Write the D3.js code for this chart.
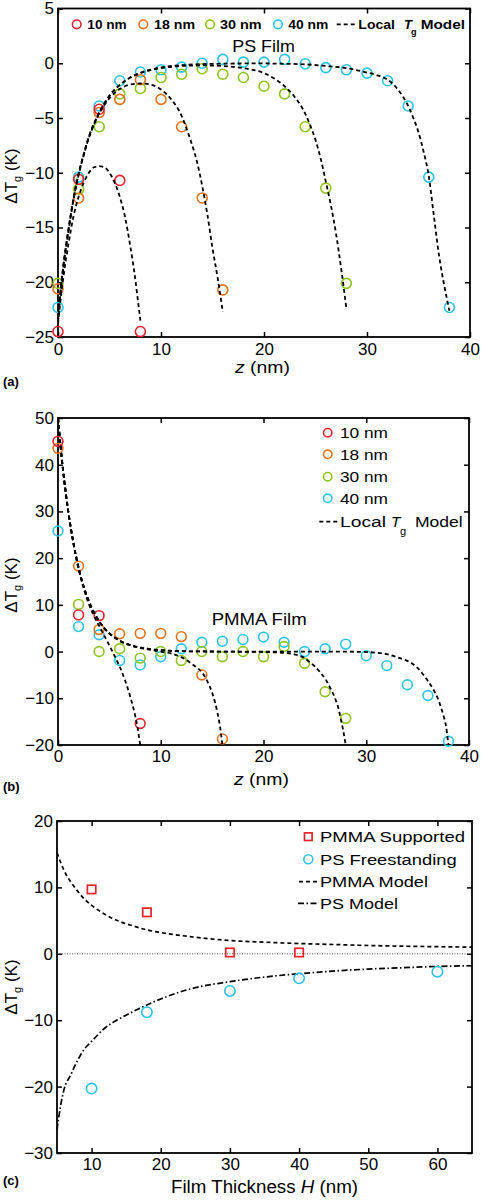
<!DOCTYPE html>
<html><head><meta charset="utf-8">
<script src="https://cdn.jsdelivr.net/npm/d3@7"></script>
<style>
body{margin:0;background:#fff}
svg{display:block}
text{font-family:"Liberation Sans",Arial,Helvetica,sans-serif;fill:#000}
</style>
</head><body>
<svg id="chart" width="482" height="1200"></svg>
<script>
// ---------- Panel (a): PS film, ΔTg vs z ----------
const psZ10 = [0,2,4,6,8];
const psT10 = [-24.5,-10.6,-4.2,-10.7,-24.5];
const psZ18 = [0,2,4,6,8,10,12,14,16];
const psT18 = [-20.6,-12.3,-4.5,-3.3,-1.5,-3.3,-5.8,-12.3,-20.7];
const psZ30 = [0,2,4,6,8,10,12,14,16,18,20,22,24,26,28];
const psT30 = [-20.1,-11.5,-5.8,-2.8,-2.3,-1.3,-1.0,-0.5,-1.0,-1.3,-2.1,-2.8,-5.8,-11.4,-20.1];
const psZ40 = [0,2,4,6,8,10,12,14,16,18,20,22,24,26,28,30,32,34,36,38];
const psT40 = [-22.3,-10.4,-3.9,-1.6,-0.8,-0.6,-0.35,0,0.35,0.1,0.1,0.35,-0.05,-0.4,-0.6,-0.9,-1.6,-3.9,-10.4,-22.3];

const psModelZ10 = [0,0.25,0.5,1,1.5,2,2.5,3,3.5,4,4.5,5,5.5,6,6.5,7,7.5,7.75,8];
const psModelT10 = [-23.8,-21.6,-19.7,-16.6,-14.0,-12.2,-10.9,-10.0,-9.5,-9.4,-9.5,-10.0,-10.9,-12.2,-14.0,-16.6,-19.7,-21.6,-23.5];
const psModelZ18 = [0,0.25,0.5,1,1.5,2,2.5,3,3.5,4,5,6,7,8,9,10,11,12,12.5,13,13.5,14,14.5,15,15.5,16];
const psModelT18 = [-23.1,-20.8,-18.7,-15.4,-12.5,-10.2,-8.4,-6.8,-5.6,-4.6,-3.2,-2.35,-1.95,-1.85,-1.95,-2.4,-3.3,-4.8,-6.0,-7.4,-9.0,-11.2,-13.8,-16.9,-19.6,-22.7];
const psModelZ30 = [0,0.25,0.5,1,1.5,2,2.5,3,3.5,4,5,6,7,8,9,10,12,14,16,18,20,21,22,23,24,24.5,25,25.5,26,26.5,27,27.5,28];
const psModelT30 = [-23.6,-20.8,-18.7,-15.3,-12.4,-10.1,-8.3,-6.7,-5.5,-4.5,-2.97,-1.98,-1.33,-0.9,-0.62,-0.45,-0.25,-0.2,-0.25,-0.45,-0.9,-1.4,-2.1,-3.1,-4.6,-5.7,-7.0,-8.7,-10.8,-13.0,-15.6,-18.8,-22.4];
const psModelZ40 = [0,0.25,0.5,1,1.5,2,2.5,3,3.5,4,5,6,7,8,9,10,12,14,16,18,20,22,24,26,28,30,31,32,33,34,34.5,35,35.5,36,36.5,37,37.5,38];
const psModelT40 = [-23.6,-20.8,-18.7,-15.3,-12.4,-10.1,-8.3,-6.7,-5.5,-4.5,-2.96,-1.97,-1.31,-0.87,-0.58,-0.38,-0.17,-0.08,-0.04,-0.02,-0.02,-0.05,-0.1,-0.25,-0.45,-0.85,-1.1,-1.5,-2.4,-3.9,-5.0,-6.3,-8.1,-10.3,-14.0,-17.6,-20.3,-22.6];

// ---------- Panel (b): PMMA film, ΔTg vs z ----------
const pmmaZ10 = [0,2,4,8];
const pmmaT10 = [45,7.85,7.7,-15.4];
const pmmaZ18 = [0,2,4,6,8,10,12,14,16];
const pmmaT18 = [43.5,18.3,4.7,3.8,3.9,3.9,3.2,-5.0,-18.7];
const pmmaZ30 = [2,4,6,8,10,12,14,16,18,20,22,24,26,28];
const pmmaT30 = [10.1,0,0.6,-1.4,0,-1.9,0,-1.1,0,-1.1,1.07,-2.5,-8.6,-14.3];
const pmmaZ40 = [0,2,4,6,8,10,12,14,16,18,20,22,24,26,28,30,32,34,36,38];
const pmmaT40 = [25.8,5.35,3.6,-1.9,-2.85,-1.1,0.6,2.0,2.2,2.6,3.1,2.0,0,0.6,1.6,-0.9,-3.0,-7.1,-9.4,-19.2];

const pmmaModelZ10 = [0,0.25,0.5,0.75,1,1.5,2,2.5,3,3.5,4,4.5,5,5.5,6,6.5,7,7.25,7.5,7.75,8];
const pmmaModelT10 = [50,43.9,38.6,34.0,29.9,23.1,17.7,13.5,10.2,7.6,5.5,3.4,1.3,-0.9,-3.2,-6.0,-9.4,-11.4,-13.6,-16.4,-20];
const pmmaModelZ18 = [0,0.25,0.5,0.75,1,1.5,2,2.5,3,3.5,4,5,6,7,8,9,10,11,12,12.5,13,13.5,14,14.5,15,15.25,15.5,15.75,16];
const pmmaModelT18 = [50,44.0,38.7,34.1,30.0,23.3,18.0,13.9,10.8,8.4,6.5,3.9,2.3,1.4,0.77,0.38,0.0,-0.4,-1.2,-1.8,-2.6,-3.4,-4.4,-6.2,-8.8,-10.6,-12.9,-15.8,-20];
const pmmaModelZ30 = [0,0.25,0.5,0.75,1,1.5,2,2.5,3,3.5,4,5,6,7,8,9,10,12,14,16,18,20,22,23,24,24.5,25,25.5,26,26.5,27,27.25,27.5,27.75,28];
const pmmaModelT30 = [50,44.0,38.7,34.1,30.0,23.3,18.0,13.9,10.8,8.4,6.5,3.9,2.34,1.41,0.84,0.51,0.3,0.1,0.03,0,-0.05,-0.1,-0.3,-0.6,-1.4,-2.3,-3.2,-4.4,-5.8,-7.8,-10.2,-11.8,-14.2,-16.8,-20];
const pmmaModelZ40 = [0,0.25,0.5,0.75,1,1.5,2,2.5,3,3.5,4,5,6,7,8,9,10,12,14,16,18,20,22,24,26,28,30,31,32,33,34,34.5,35,35.5,36,36.5,37,37.25,37.5,37.75,38];
const pmmaModelT40 = [50,44.0,38.7,34.1,30.0,23.3,18.0,13.9,10.8,8.4,6.5,3.9,2.34,1.41,0.84,0.51,0.3,0.1,0.03,0,0,0,0,0,0,-0.02,-0.1,-0.25,-0.55,-1.2,-2.0,-2.6,-3.5,-4.8,-6.3,-8.0,-10.2,-11.8,-13.6,-15.8,-20];

// ---------- Panel (c): ΔTg vs film thickness ----------
const hSupported = [10,18,30,40];
const tSupported = [9.7,6.25,0.2,0.2];
const hFree = [10,18,30,40,60];
const tFree = [-20.3,-8.8,-5.6,-3.7,-2.7];
const pmmaModelH = [5,6,7,8,9,10,12,14,16,18,20,25,30,35,40,45,50,55,60,65];
const pmmaModelT = [15.2,12.6,10.8,9.4,8.2,7.3,5.9,4.9,4.2,3.6,3.2,2.5,2.0,1.75,1.55,1.4,1.25,1.15,1.07,1.0];
const psModelH = [5,5.5,6,7,8,9,10,12,14,16,18,20,25,30,35,40,45,50,55,60,65];
const psModelT = [-26.5,-23,-20.5,-18.2,-16.0,-14.3,-13.2,-11.1,-9.8,-8.7,-7.7,-6.8,-5.1,-4.2,-3.5,-3.0,-2.6,-2.3,-2.1,-1.9,-1.8];

// ticks & labels
const zTicks = [0,10,20,30,40];
const aYTicks = [-25,-20,-15,-10,-5,0,5];
const bYTicks = [-20,-10,0,10,20,30,40,50];
const cXTicks = [10,20,30,40,50,60];
const cYTicks = [-30,-20,-10,0,10,20];
const sizeLabels = ["10 nm","18 nm","30 nm","40 nm"];
const colors = ["#e8232b","#e3721f","#8fc31f","#2cc3e6"];

const svg = d3.select("#chart");
const fmt = d3.format("d");

function makePanel(o){
  const x = d3.scaleLinear().domain(o.xd).range([o.l,o.r]);
  const y = d3.scaleLinear().domain(o.yd).range([o.b,o.t]);
  const g = svg.append("g");
  const cid = "clip-" + o.name;
  svg.append("clipPath").attr("id",cid).append("rect")
    .attr("x",o.l).attr("y",o.t).attr("width",o.r-o.l).attr("height",o.b-o.t);

  const styleAxis = sel => {
    sel.select(".domain").remove();
    sel.selectAll(".tick line").attr("stroke","#000").attr("stroke-width",1.5);
    sel.selectAll(".tick text").attr("font-size",17).attr("fill","#000")
      .style("font-family",'"Liberation Sans",Arial,sans-serif');
  };
  g.append("g").attr("transform",`translate(0,${o.b})`)
    .call(d3.axisBottom(x).tickValues(o.xt).tickSize(-5).tickPadding(o.xpad).tickFormat(fmt)).call(styleAxis);
  g.append("g").attr("transform",`translate(0,${o.t})`)
    .call(d3.axisTop(x).tickValues(o.xt).tickSize(-5).tickFormat("")).call(styleAxis);
  g.append("g").attr("transform",`translate(${o.l},0)`)
    .call(d3.axisLeft(y).tickValues(o.yt).tickSize(-5).tickPadding(4).tickFormat(fmt)).call(styleAxis);
  g.append("g").attr("transform",`translate(${o.r},0)`)
    .call(d3.axisRight(y).tickValues(o.yt).tickSize(-5).tickFormat("")).call(styleAxis);
  g.append("rect").attr("x",o.l).attr("y",o.t).attr("width",o.r-o.l).attr("height",o.b-o.t)
    .attr("fill","none").attr("stroke","#000").attr("stroke-width",1.8);
  return {x,y,g,cid};
}

function circles(p, xs, ys, color, r){
  p.g.append("g").selectAll("circle").data(xs.map((v,i)=>[v,ys[i]])).join("circle")
    .attr("cx",d=>p.x(d[0])).attr("cy",d=>p.y(d[1])).attr("r",r)
    .attr("fill","none").attr("stroke",color).attr("stroke-width",1.6);
}
function curve(p, xs, ys, dash, w){
  const line = d3.line().x(d=>p.x(d[0])).y(d=>p.y(d[1])).curve(d3.curveMonotoneX);
  p.g.append("path").datum(xs.map((v,i)=>[v,ys[i]]))
    .attr("clip-path",`url(#${p.cid})`)
    .attr("d",line).attr("fill","none").attr("stroke","#000")
    .attr("stroke-width",w).attr("stroke-dasharray",dash);
}
function yLabel(x, cy){
  const t = svg.append("text").attr("transform",`translate(${x},${cy}) rotate(-90)`)
    .attr("text-anchor","middle").attr("font-size",17);
  t.append("tspan").text("ΔT");
  t.append("tspan").attr("font-size",11).attr("dy",4).text("g");
  t.append("tspan").attr("dy",-4).text(" (K)");
}
function zLabel(cx, by){
  const t = svg.append("text").attr("x",cx).attr("y",by).attr("text-anchor","middle")
    .attr("font-size",17).attr("textLength",55).attr("lengthAdjust","spacingAndGlyphs");
  t.append("tspan").attr("font-style","italic").text("z");
  t.append("tspan").text(" (nm)");
}
function panelTag(txt, by){
  svg.append("text").attr("x",3).attr("y",by).attr("font-size",13).attr("font-weight","bold").text(txt);
}

// ===== Panel (a) =====
const pa = makePanel({name:"a", xd:[0,40], yd:[-25,5], l:58, r:470, t:8.5, b:337, xt:zTicks, yt:aYTicks, xpad:6});
const aZ = [psZ40, psZ30, psZ18, psZ10], aT = [psT40, psT30, psT18, psT10];
[3,2,1,0].forEach((c,i)=>circles(pa, aZ[i], aT[i], colors[c], 5));
curve(pa, psModelZ10, psModelT10, "4,3", 1.8);
curve(pa, psModelZ18, psModelT18, "4,3", 1.8);
curve(pa, psModelZ30, psModelT30, "4,3", 1.8);
curve(pa, psModelZ40, psModelT40, "4,3", 1.8);

// legend (a)
const aLegX = [76.7,143.3,210,278], aTxtX = [87.3,154,220,288.3], aTxtW = [39.4,41,41.7,40];
sizeLabels.forEach((s,i)=>{
  svg.append("circle").attr("cx",aLegX[i]).attr("cy",24.3).attr("r",4.3)
    .attr("fill","none").attr("stroke",colors[i]).attr("stroke-width",1.6);
  svg.append("text").attr("x",aTxtX[i]).attr("y",29).attr("font-size",13).attr("font-weight","bold")
    .attr("textLength",aTxtW[i]).attr("lengthAdjust","spacingAndGlyphs").text(s);
});
svg.append("line").attr("x1",336.7).attr("x2",356).attr("y1",24.3).attr("y2",24.3)
  .attr("stroke","#000").attr("stroke-width",1.8).attr("stroke-dasharray","4,3");
svg.append("text").attr("x",358.3).attr("y",29).attr("font-size",13).attr("font-weight","bold")
  .attr("textLength",36.7).attr("lengthAdjust","spacingAndGlyphs").text("Local");
svg.append("text").attr("x",404).attr("y",29).attr("font-size",13).attr("font-weight","bold").attr("font-style","italic").text("T");
svg.append("text").attr("x",411).attr("y",35).attr("font-size",9).attr("font-weight","bold").text("g");
svg.append("text").attr("x",420.7).attr("y",29).attr("font-size",13).attr("font-weight","bold")
  .attr("textLength",44.3).attr("lengthAdjust","spacingAndGlyphs").text("Model");
svg.append("text").attr("x",263.6).attr("y",51.5).attr("text-anchor","middle").attr("font-size",17)
  .attr("textLength",62.7).attr("lengthAdjust","spacingAndGlyphs").text("PS Film");
yLabel(17, 176);
zLabel(262.5, 373);
panelTag("(a)", 386);

// ===== Panel (b) =====
const pb = makePanel({name:"b", xd:[0,40], yd:[-20,50], l:58, r:469, t:418, b:745, xt:zTicks, yt:bYTicks, xpad:5});
const bZ = [pmmaZ40, pmmaZ30, pmmaZ18, pmmaZ10], bT = [pmmaT40, pmmaT30, pmmaT18, pmmaT10];
[3,2,1,0].forEach((c,i)=>circles(pb, bZ[i], bT[i], colors[c], 4.9));
curve(pb, pmmaModelZ10, pmmaModelT10, "4,3", 1.8);
curve(pb, pmmaModelZ18, pmmaModelT18, "4,3", 1.8);
curve(pb, pmmaModelZ30, pmmaModelT30, "4,3", 1.8);
curve(pb, pmmaModelZ40, pmmaModelT40, "4,3", 1.8);

const bRows = [432.7,454.3,476.7,498.3];
sizeLabels.forEach((s,i)=>{
  svg.append("circle").attr("cx",327.7).attr("cy",bRows[i]).attr("r",4.2)
    .attr("fill","none").attr("stroke",colors[i]).attr("stroke-width",1.6);
  svg.append("text").attr("x",340).attr("y",bRows[i]+5.5).attr("font-size",15.5)
    .attr("textLength",48).attr("lengthAdjust","spacingAndGlyphs").text(s);
});
svg.append("line").attr("x1",319.3).attr("x2",338.3).attr("y1",521.7).attr("y2",521.7)
  .attr("stroke","#000").attr("stroke-width",1.8).attr("stroke-dasharray","4,3");
svg.append("text").attr("x",340).attr("y",527).attr("font-size",15.5)
  .attr("textLength",46).attr("lengthAdjust","spacingAndGlyphs").text("Local");
svg.append("text").attr("x",391).attr("y",527).attr("font-size",15.5).attr("font-style","italic").text("T");
svg.append("text").attr("x",400).attr("y",535).attr("font-size",11).text("g");
svg.append("text").attr("x",415).attr("y",527).attr("font-size",15.5)
  .attr("textLength",47.7).attr("lengthAdjust","spacingAndGlyphs").text("Model");
svg.append("text").attr("x",259.2).attr("y",625).attr("text-anchor","middle").attr("font-size",17)
  .attr("textLength",95).attr("lengthAdjust","spacingAndGlyphs").text("PMMA Film");
yLabel(17, 585);
zLabel(261.5, 785);
panelTag("(b)", 791);

// ===== Panel (c) =====
const pc = makePanel({name:"c", xd:[5,65], yd:[-30,20], l:57, r:472, t:821, b:1153, xt:cXTicks, yt:cYTicks, xpad:5});
pc.g.append("line").attr("x1",pc.x(5)).attr("x2",pc.x(65)).attr("y1",pc.y(0)).attr("y2",pc.y(0))
  .attr("stroke","#444").attr("stroke-width",0.9).attr("stroke-dasharray","1,1.5");
curve(pc, pmmaModelH, pmmaModelT, "4,3", 1.7);
curve(pc, psModelH, psModelT, "6,2.5,1.5,2.5", 1.7);
circles(pc, hFree, tFree, colors[3], 5.2);
pc.g.append("g").selectAll("rect").data(hSupported.map((v,i)=>[v,tSupported[i]])).join("rect")
  .attr("x",d=>pc.x(d[0])-4.2).attr("y",d=>pc.y(d[1])-4.2).attr("width",8.4).attr("height",8.4)
  .attr("fill","none").attr("stroke",colors[0]).attr("stroke-width",1.7);

// legend (c)
svg.append("rect").attr("x",308.3-3.8).attr("y",836.7-3.8).attr("width",7.6).attr("height",7.6)
  .attr("fill","none").attr("stroke",colors[0]).attr("stroke-width",1.7);
svg.append("circle").attr("cx",308.3).attr("cy",859.3).attr("r",4.5)
  .attr("fill","none").attr("stroke",colors[3]).attr("stroke-width",1.6);
svg.append("line").attr("x1",299).attr("x2",318).attr("y1",881.7).attr("y2",881.7)
  .attr("stroke","#000").attr("stroke-width",1.7).attr("stroke-dasharray","4,3");
svg.append("line").attr("x1",298).attr("x2",318).attr("y1",903.3).attr("y2",903.3)
  .attr("stroke","#000").attr("stroke-width",1.7).attr("stroke-dasharray","6,2.5,1.5,2.5");
const cLeg = [["PMMA Supported",836.7,145],["PS Freestanding",859.3,136.7],["PMMA Model",881.7,108],["PS Model",903.3,78]];
cLeg.forEach(d=>{
  svg.append("text").attr("x",320).attr("y",d[1]+5.5).attr("font-size",15.5)
    .attr("textLength",d[2]).attr("lengthAdjust","spacingAndGlyphs").text(d[0]);
});
yLabel(17, 987);
{
  const t = svg.append("text").attr("x",264.5).attr("y",1193).attr("text-anchor","middle")
    .attr("font-size",18).attr("textLength",187).attr("lengthAdjust","spacingAndGlyphs");
  t.append("tspan").text("Film Thickness ");
  t.append("tspan").attr("font-style","italic").text("H");
  t.append("tspan").text(" (nm)");
}
panelTag("(c)", 1185);
</script>
</body></html>
